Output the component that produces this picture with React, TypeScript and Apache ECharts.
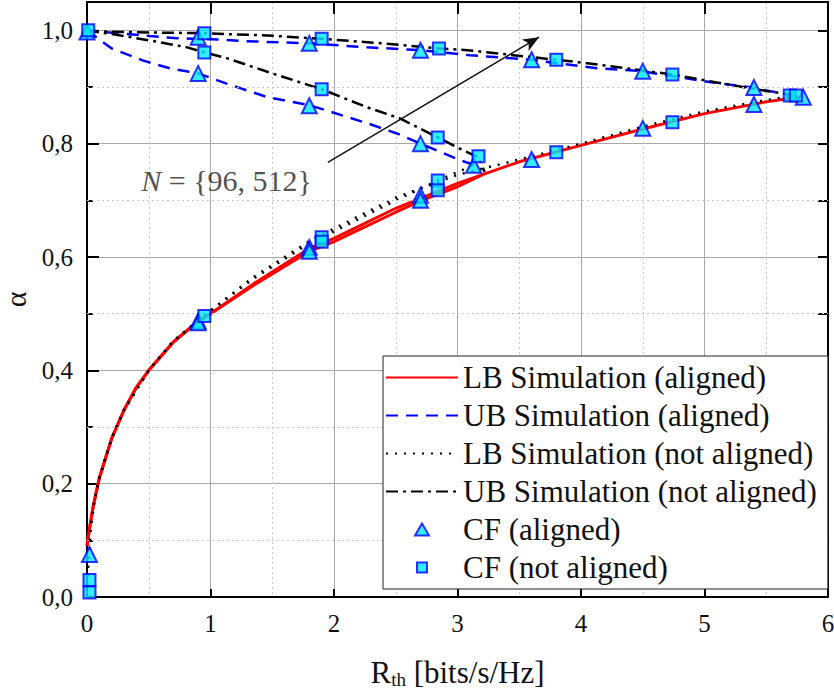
import React, { useEffect, useRef } from "react";
import * as echarts from "echarts";

const FONT = "Liberation Serif";

// axis ticks
const xTickValues = [0, 1, 2, 3, 4, 5, 6];
const yMinorGrid = [0.1, 0.3, 0.5, 0.7, 0.9];

// Lower bound, aligned (red solid) – N = 512 and N = 96
const lbAligned512: number[][] = [
  [0, 0.09], [0.02, 0.12], [0.05, 0.16], [0.1, 0.21], [0.2, 0.28], [0.3, 0.33], [0.4, 0.37],
  [0.5, 0.4], [0.7, 0.45], [0.9, 0.487], [1.0, 0.5], [1.35, 0.553], [1.8, 0.615], [2.0, 0.633],
  [2.5, 0.686], [3.0, 0.73], [3.5, 0.768], [4.0, 0.797], [4.5, 0.826], [5.0, 0.853], [5.5, 0.874], [5.8, 0.883],
];
const lbAligned96: number[][] = [
  [0, 0.09], [0.02, 0.12], [0.05, 0.16], [0.1, 0.21], [0.2, 0.28], [0.3, 0.33], [0.4, 0.37],
  [0.5, 0.4], [0.7, 0.45], [0.9, 0.487], [1.0, 0.5], [1.35, 0.55], [1.8, 0.61], [2.0, 0.627],
  [2.5, 0.679], [2.7, 0.699], [3.0, 0.724], [3.2, 0.745],
];

// Upper bound, aligned (blue dashed)
const ubAligned512: number[][] = [
  [0, 1.0], [0.24, 0.995], [0.51, 0.99], [0.73, 0.986], [1.05, 0.984], [1.27, 0.981], [1.8, 0.977],
  [2.27, 0.97], [2.7, 0.965], [3.1, 0.956], [3.6, 0.948], [4.13, 0.933], [4.49, 0.928], [4.8, 0.917],
  [5.07, 0.908], [5.39, 0.899], [5.77, 0.882],
];
const ubAligned96: number[][] = [
  [0, 1.0], [0.2, 0.968], [0.45, 0.947], [0.67, 0.933], [0.9, 0.924], [1.13, 0.906], [1.46, 0.882],
  [1.8, 0.868], [2.27, 0.836], [2.51, 0.818], [2.7, 0.8], [3.02, 0.771], [3.14, 0.762],
];

// Lower bound, not aligned (black dotted)
const lbNotAligned512: number[][] = [
  [0, 0.02], [0.01, 0.06], [0.03, 0.12], [0.06, 0.17], [0.1, 0.21], [0.2, 0.28], [0.3, 0.33],
  [0.5, 0.4], [0.7, 0.452], [0.95, 0.497], [1.35, 0.565], [1.8, 0.628], [2.0, 0.65], [2.5, 0.705],
  [3.0, 0.745], [3.5, 0.772], [4.0, 0.8], [4.5, 0.83], [5.0, 0.857], [5.5, 0.877], [5.75, 0.885],
];
const lbNotAligned96: number[][] = [
  [0, 0.02], [0.01, 0.06], [0.03, 0.12], [0.06, 0.17], [0.1, 0.21], [0.2, 0.28], [0.3, 0.33],
  [0.5, 0.4], [0.7, 0.452], [0.95, 0.497], [1.35, 0.562], [1.8, 0.624], [2.0, 0.645], [2.5, 0.7],
  [2.84, 0.735], [3.0, 0.75], [3.17, 0.766],
];

// Upper bound, not aligned (black dash-dot)
const ubNotAligned512: number[][] = [
  [0, 1.0], [0.13, 0.998], [0.59, 0.996], [0.95, 0.995], [1.18, 0.993], [1.46, 0.991], [1.9, 0.985],
  [2.4, 0.977], [2.85, 0.968], [3.08, 0.965], [3.8, 0.948], [4.05, 0.942], [4.37, 0.933], [4.74, 0.922],
  [5.1, 0.908], [5.5, 0.893], [5.75, 0.885],
];
const ubNotAligned96: number[][] = [
  [0, 1.0], [0.3, 0.99], [0.59, 0.979], [0.81, 0.97], [0.95, 0.961], [1.13, 0.951], [1.5, 0.924],
  [1.9, 0.896], [2.27, 0.864], [2.53, 0.845], [2.84, 0.811], [3.05, 0.788], [3.17, 0.776], [3.22, 0.75],
];

// Closed-form points
const cfAligned: number[][] = [
  [0.0, 0.997], [0.9, 0.924], [1.8, 0.867], [2.7, 0.8], [3.13, 0.762],
  [0.9, 0.988], [1.8, 0.977], [2.7, 0.965], [3.6, 0.948], [4.5, 0.928], [5.4, 0.899], [5.8, 0.882],
  [0.02, 0.075], [0.9, 0.487], [0.9, 0.484], [1.8, 0.617], [1.8, 0.61], [2.7, 0.709], [2.7, 0.7],
  [3.6, 0.772], [4.5, 0.827], [5.4, 0.869],
];
const cfNotAligned: number[][] = [
  [0.01, 1.0], [0.95, 0.961], [1.9, 0.896], [2.84, 0.811], [3.17, 0.778],
  [0.95, 0.995], [1.9, 0.985], [2.85, 0.968], [3.8, 0.948], [4.74, 0.922], [5.69, 0.885],
  [0.02, 0.03], [0.02, 0.008], [0.95, 0.496], [1.9, 0.635], [1.9, 0.627], [2.84, 0.735], [2.84, 0.718],
  [3.8, 0.785], [4.74, 0.838], [5.74, 0.885],
];

// annotation
const annotationPoint = [1.13, 0.735];
const arrowFrom = [1.95, 0.767];
const arrowTo = [3.66, 0.988];

const legendNames = [
  "LB Simulation (aligned)",
  "UB Simulation (aligned)",
  "LB Simulation (not aligned)",
  "UB Simulation (not aligned)",
  "CF (aligned)",
  "CF (not aligned)",
];

const fmt = (v: number) => v.toFixed(1).replace(".", ",");

export default function App() {
  const ref = useRef<HTMLDivElement>(null);
  useEffect(() => {
    if (!ref.current) return;
    const chart = echarts.init(ref.current, null, { renderer: "svg" });

    const redStyle = { color: "#ff0000", width: 3, type: "solid" as const };
    const blueStyle = { color: "#0000ff", width: 2.5, type: [12, 8] };
    const dotStyle = { color: "#000000", width: 2.5, type: [2, 7] };
    const dashDotStyle = { color: "#000000", width: 2.5, type: [12, 5, 3, 5] };

    const lineSeries = (name: string, data: number[][], ls: any, color: string) => ({
      type: "line",
      name,
      data,
      symbol: "none",
      showSymbol: false,
      smooth: false,
      z: 3,
      itemStyle: { color },
      lineStyle: ls,
      silent: true,
    });

    const hiddenItem = { color: "rgba(0,0,0,0)", borderColor: "rgba(0,0,0,0)", borderWidth: 0 };
    const txt = { fontFamily: FONT, color: "#111111" };

    const option: any = {
      animation: false,
      backgroundColor: "#ffffff",
      textStyle: { fontFamily: FONT },
      grid: { left: 87, right: 6, top: 2, bottom: 96, containLabel: false, outerBoundsMode: "none" },
      legend: {
        data: [
          { name: legendNames[0], itemStyle: hiddenItem },
          { name: legendNames[1], itemStyle: hiddenItem },
          { name: legendNames[2], itemStyle: hiddenItem },
          { name: legendNames[3], itemStyle: hiddenItem },
          { name: legendNames[4], icon: "path://M-3,-1 M17,13 M7,0 L14,12 L0,12 Z" },
          { name: legendNames[5], icon: "path://M-2,-2 M12,12 M0,0 L10,0 L10,10 L0,10 Z" },
        ],
        orient: "vertical",
        left: 383,
        top: 356,
        itemWidth: 72,
        itemHeight: 14,
        itemGap: 7,
        padding: [6, 11, 6, 2],
        symbolKeepAspect: true,
        backgroundColor: "#ffffff",
        borderColor: "#222222",
        borderWidth: 1,
        borderRadius: 0,
        selectedMode: false,
        z: 10,
        textStyle: { ...txt, fontSize: 31, lineHeight: 31 },
      },
      xAxis: [
        {
          type: "value",
          position: "bottom",
          min: 0,
          max: 6,
          interval: 1,
          name: "{r|R}{s|th}{t| [bits/s/Hz]}",
          nameLocation: "middle",
          nameGap: 58,
          nameTextStyle: {
            ...txt,
            fontSize: 31,
            lineHeight: 34,
            rich: {
              r: { ...txt, fontSize: 31, lineHeight: 34 },
              s: { ...txt, fontSize: 19, lineHeight: 20, verticalAlign: "bottom" },
              t: { ...txt, fontSize: 31, lineHeight: 34 },
            },
          },
          axisLine: { show: true, onZero: false, lineStyle: { color: "#000", width: 2 } },
          axisTick: { show: true, inside: true, length: 8, lineStyle: { color: "#000", width: 2 } },
          axisLabel: {
            ...txt,
            fontSize: 25,
            margin: 14,
            formatter: (v: number) => (xTickValues.includes(v) ? String(v) : ""),
          },
          splitLine: { show: true, lineStyle: { color: "#a8a8a8", width: 1 } },
          minorTick: { show: false, splitNumber: 2 },
          minorSplitLine: { show: true, lineStyle: { color: "#c8c8c8", width: 1, type: [2, 3] } },
        },
        {
          type: "value",
          position: "top",
          min: 0,
          max: 6,
          interval: 1,
          axisLine: { show: true, onZero: false, lineStyle: { color: "#000", width: 2 } },
          axisTick: { show: true, inside: true, length: 12, lineStyle: { color: "#000", width: 2 } },
          axisLabel: { show: false },
          splitLine: { show: false },
        },
      ],
      yAxis: [
        {
          type: "value",
          position: "left",
          min: 0,
          max: 1.05,
          interval: 0.2,
          name: "α",
          nameLocation: "middle",
          nameRotate: 90,
          nameGap: 42,
          nameTextStyle: { ...txt, fontSize: 30, lineHeight: 30 },
          axisLine: { show: true, onZero: false, lineStyle: { color: "#000", width: 2 } },
          axisTick: { show: true, inside: true, length: 12, lineStyle: { color: "#000", width: 2 } },
          minorTick: { show: true, splitNumber: 2, length: 6, lineStyle: { color: "#000", width: 2 } },
          axisLabel: {
            ...txt,
            fontSize: 25,
            margin: 14,
            showMaxLabel: false,
            formatter: (v: number) => (Math.abs(v * 5 - Math.round(v * 5)) < 1e-6 ? fmt(v) : ""),
          },
          splitLine: { show: true, lineStyle: { color: "#a8a8a8", width: 1 } },
        },
        {
          type: "value",
          position: "right",
          min: 0,
          max: 1.05,
          interval: 0.1,
          axisLine: { show: true, onZero: false, lineStyle: { color: "#000", width: 2 } },
          axisTick: { show: true, inside: true, length: 10, lineStyle: { color: "#000", width: 2 } },
          axisLabel: { show: false },
          splitLine: { show: false },
        },
      ],
      series: [
        {
          type: "line",
          name: "gridHelper",
          data: [],
          z: 1,
          silent: true,
          markLine: {
            silent: true,
            symbol: ["none", "none"],
            label: { show: false },
            lineStyle: { color: "#c8c8c8", width: 1, type: [2, 3] },
            data: yMinorGrid.map((v) => ({ yAxis: v })),
          },
        },
        lineSeries(legendNames[0], lbAligned512, redStyle, "#ff0000"),
        lineSeries(legendNames[0], lbAligned96, redStyle, "#ff0000"),
        lineSeries(legendNames[1], ubAligned512, blueStyle, "#0000ff"),
        lineSeries(legendNames[1], ubAligned96, blueStyle, "#0000ff"),
        lineSeries(legendNames[2], lbNotAligned512, dotStyle, "#000000"),
        lineSeries(legendNames[2], lbNotAligned96, dotStyle, "#000000"),
        lineSeries(legendNames[3], ubNotAligned512, dashDotStyle, "#000000"),
        lineSeries(legendNames[3], ubNotAligned96, dashDotStyle, "#000000"),
        {
          type: "scatter",
          name: legendNames[4],
          data: cfAligned,
          symbol: "triangle",
          symbolSize: 15,
          z: 5,
          itemStyle: { color: "#00e8ff", borderColor: "#0000ff", borderWidth: 2 },
        },
        {
          type: "scatter",
          name: legendNames[5],
          data: cfNotAligned,
          symbol: "rect",
          symbolSize: 12,
          z: 6,
          itemStyle: { color: "#00e8ff", borderColor: "#0000ff", borderWidth: 2 },
        },
        {
          type: "scatter",
          name: "annotation",
          data: [annotationPoint],
          symbolSize: 1,
          z: 7,
          silent: true,
          itemStyle: { color: "rgba(0,0,0,0)" },
          label: {
            show: true,
            position: "inside",
            formatter: () => "{i|N}{t| = {96, 512}}",
            ...txt,
            fontSize: 30,
            color: "#222222",
            rich: {
              i: { ...txt, fontStyle: "italic", fontSize: 30, color: "#222222" },
              t: { ...txt, fontSize: 30, color: "#222222" },
            },
          },
          markLine: {
            silent: true,
            symbol: ["none", "arrow"],
            symbolSize: [10, 16],
            label: { show: false },
            lineStyle: { color: "#111111", width: 1.5, type: "solid" },
            data: [[{ coord: arrowFrom }, { coord: arrowTo }]],
          },
        },
      ],
    };
    chart.setOption(option);
    return () => chart.dispose();
  }, []);
  return (
    <div
      ref={ref}
      style={{ position: "fixed", left: 0, top: 0, width: 834, height: 693, background: "#fff" }}
    />
  );
}
